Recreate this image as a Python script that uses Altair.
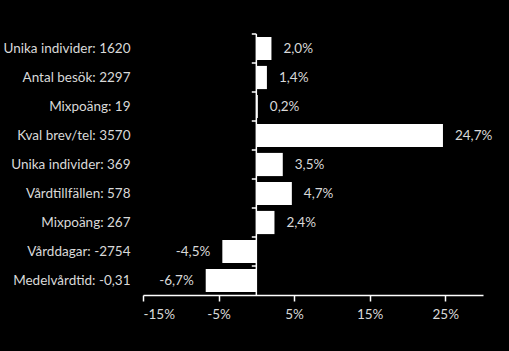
import altair as alt
import pandas as pd

categories = [
    "Unika individer: 1620",
    "Antal besök: 2297",
    "Mixpoäng: 19",
    "Kval brev/tel: 3570",
    "Unika individer: 369",
    "Vårdtillfällen: 578",
    "Mixpoäng: 267",
    "Vårddagar: -2754",
    "Medelvårdtid: -0,31",
]
values = [2.0, 1.4, 0.2, 24.7, 3.5, 4.7, 2.4, -4.5, -6.7]
tick_values = [-15, -5, 5, 15, 25]

df = pd.DataFrame({"cat": categories, "v": values})
df["label"] = [f"{v:.1f}".replace(".", ",") + "%" for v in values]

FONT = "Lato"
TXT = "#d9d9d9"
FS = 13.5

xscale = alt.Scale(domain=[-15, 30], nice=False, zero=False)
yscale = alt.Scale(domain=categories, paddingInner=0, paddingOuter=0)

base = alt.Chart(df)

bars = base.mark_bar(color="white", height={"band": 0.8}).encode(
    x=alt.X("v:Q", scale=xscale,
            axis=alt.Axis(values=tick_values, labelExpr="datum.value + '%'",
                          title=None, grid=False, domainColor="white",
                          tickColor="white", tickSize=6, labelColor=TXT,
                          labelFont=FONT, labelFontSize=FS, labelPadding=6,
                          domainWidth=1.5, tickWidth=1.5)),
    y=alt.Y("cat:N", scale=yscale, sort=categories,
            axis=alt.Axis(title=None, ticks=False, domain=False, labelPadding=13,
                          labelColor=TXT, labelFont=FONT, labelFontSize=FS)),
)

pos_text = base.transform_filter("datum.v >= 0").mark_text(
    align="left", dx=12, color=TXT, font=FONT, fontSize=FS
).encode(x=alt.X("v:Q", scale=xscale), y=alt.Y("cat:N", scale=yscale, sort=categories), text="label:N")

neg_text = base.transform_filter("datum.v < 0").mark_text(
    align="right", dx=-12, color=TXT, font=FONT, fontSize=FS
).encode(x=alt.X("v:Q", scale=xscale), y=alt.Y("cat:N", scale=yscale, sort=categories), text="label:N")

zero_line = alt.Chart(pd.DataFrame({"z": [0]})).mark_rule(color="white", strokeWidth=1.5).encode(
    x=alt.X("z:Q", scale=xscale)
)

ticks = base.mark_rule(color="white", strokeWidth=1.5).encode(
    y=alt.Y("cat:N", scale=yscale, sort=categories, bandPosition=0),
    x=alt.datum(-0.6, scale=xscale),
    x2=alt.datum(0),
)

chart = alt.layer(bars, ticks, zero_line, pos_text, neg_text).properties(
    width=340, height=261,
    background="black",
    autosize=alt.AutoSizeParams(type="none"),
    padding={"left": 143, "top": 34, "right": 26, "bottom": 56},
).configure_view(stroke=None)

chart.save("out.html", embed_options={"renderer": "svg", "actions": False})
